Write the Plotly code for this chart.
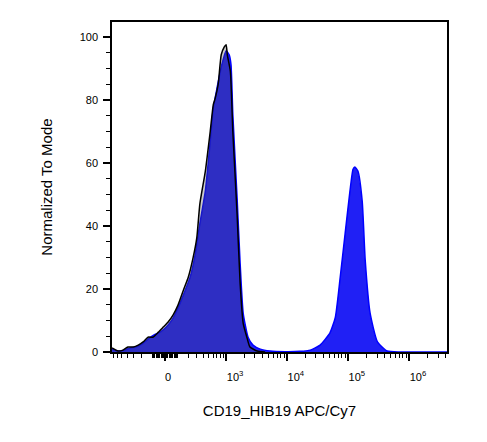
import numpy as np
import plotly.graph_objects as go

# biexponential-like display scale (decades), width parameter
C = 101.0


def biex(v):
    return np.arcsinh(np.asarray(v, dtype=float) / (2 * C)) / np.log(10)


# histogram channels (display units) and normalized counts
cd19_x = [-0.87, -0.77, -0.67, -0.57, -0.48, -0.38, -0.28, -0.18, -0.08, 0.02,
          0.11, 0.21, 0.31, 0.41, 0.49, 0.57, 0.66, 0.74, 0.79, 0.85,
          0.93, 1.00, 1.05, 1.08, 1.11, 1.18, 1.23, 1.28, 1.36, 1.44,
          1.56, 1.72, 1.97, 2.21, 2.38, 2.54, 2.70, 2.79, 2.87, 2.95,
          3.03, 3.08, 3.11, 3.16, 3.23, 3.28, 3.36, 3.48, 3.64, 3.85, 4.62]
cd19_y = [0.9, 0.3, 0.6, 1.3, 1.6, 2.5, 4.1, 5.4, 6.3, 7.9,
          10.1, 13.9, 18.6, 23.7, 30.6, 40.7, 51.1, 66.9, 77.3, 83.6,
          91.2, 95.6, 94.3, 91.2, 75.4, 48.9, 28.1, 12.3, 4.7, 2.2,
          0.9, 0.3, 0.1, 0.2, 0.6, 2.2, 6.0, 11.0, 23.7, 37.5,
          51.1, 58.0, 58.7, 57.4, 47.9, 29.0, 12.3, 3.2, 0.3, 0.0, 0.0]

iso_x = [-0.87, -0.77, -0.69, -0.61, -0.52, -0.44, -0.36, -0.28, -0.20, -0.11,
         -0.03, 0.05, 0.13, 0.21, 0.30, 0.38, 0.46, 0.52, 0.57, 0.66,
         0.74, 0.79, 0.82, 0.87, 0.92, 0.97, 1.00, 1.02, 1.07, 1.11,
         1.18, 1.23, 1.28, 1.34, 1.39, 1.51, 1.64]
iso_y = [1.3, 0.3, 0.6, 1.6, 1.6, 2.2, 3.2, 4.7, 4.7, 6.3,
         7.9, 9.5, 11.7, 14.8, 19.6, 23.7, 30.0, 36.3, 47.0, 57.4,
         70.0, 78.5, 80.4, 84.9, 94.3, 96.8, 97.5, 94.3, 89.0, 70.0,
         43.8, 21.8, 9.1, 4.7, 1.6, 0.3, 0.0]

# axis ticks (raw fluorescence units)
major_vals = [0, 1e3, 1e4, 1e5, 1e6]
major_text = ["0\u00a0\u00a0\u00a0\u00a0", "10<sup>3</sup>", "10<sup>4</sup>",
              "10<sup>5</sup>", "10<sup>6</sup>"]
minor_vals = ([-m * 100 for m in range(1, 10)] + [-m * 10 for m in range(1, 10)]
              + [m * 10 for m in range(1, 10)] + [m * 100 for m in range(1, 10)]
              + [m * 10 ** k for k in range(3, 7) for m in range(2, 10)])

fig = go.Figure()

fig.add_trace(go.Scatter(x=cd19_x, y=cd19_y, mode="lines", fill="tozeroy",
                         line=dict(color="rgb(0,0,255)", width=1.5, shape="spline", smoothing=0.5),
                         fillcolor="rgb(32,32,245)", showlegend=False))
fig.add_trace(go.Scatter(x=iso_x, y=iso_y, mode="lines", fill="tozeroy",
                         line=dict(color="black", width=1.5, shape="spline", smoothing=0.5),
                         fillcolor="rgba(80,80,80,0.3)", showlegend=False))

# page body has an 8px margin, so the figure is a little smaller than the window
fig.update_layout(
    width=479, height=434,
    margin=dict(l=104, r=40, t=12, b=90),
    paper_bgcolor="white", plot_bgcolor="white",
    font=dict(family="Liberation Sans, Arial", color="black", size=11),
    xaxis=dict(
        range=[-0.87, 4.62], showgrid=False, zeroline=False,
        showline=True, linecolor="black", linewidth=1.5, mirror=True,
        tickmode="array", tickvals=biex(major_vals), ticktext=major_text,
        ticks="outside", ticklen=7, tickwidth=2, tickcolor="black",
        ticklabelshift=9, ticklabelstandoff=7,
        tickfont=dict(color="black", size=11),
        minor=dict(tickmode="array", tickvals=biex(minor_vals), ticks="outside",
                   ticklen=4, tickwidth=1, tickcolor="black"),
        title=dict(text="CD19_HIB19 APC/Cy7", font=dict(size=15), standoff=24),
    ),
    yaxis=dict(
        range=[0, 104.7], showgrid=False, zeroline=False,
        showline=True, linecolor="black", linewidth=1.5, mirror=True,
        tickmode="array", tickvals=[0, 20, 40, 60, 80, 100],
        ticks="outside", ticklen=7, tickwidth=2, tickcolor="black",
        ticklabelstandoff=3,
        tickfont=dict(color="black", size=11),
        minor=dict(dtick=5, ticks="outside", ticklen=4, tickwidth=1, tickcolor="black"),
        title=dict(text="Normalized To Mode", font=dict(size=15), standoff=23),
    ),
)

fig.write_html("out.html")
